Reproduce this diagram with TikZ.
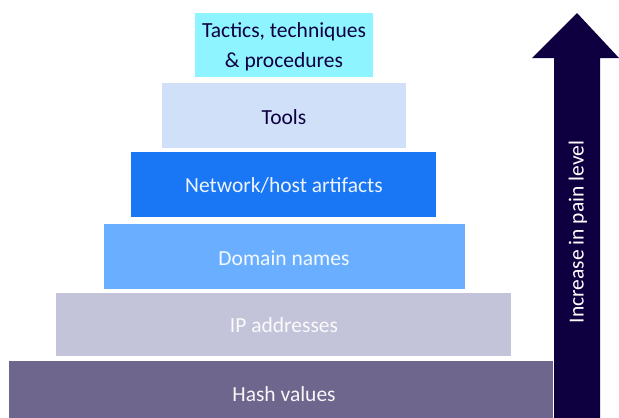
\documentclass[tikz,border=0pt]{standalone}
\usepackage{fontspec}
\setmainfont{Carlito}
\definecolor{navy}{HTML}{0E0040}
\definecolor{cttp}{HTML}{8EF4FF}
\definecolor{ctools}{HTML}{D0E0F8}
\definecolor{cnet}{HTML}{1976F5}
\definecolor{cdom}{HTML}{6AAFFF}
\definecolor{cip}{HTML}{C3C3DA}
\definecolor{chash}{HTML}{6E668C}
\begin{document}
\begin{tikzpicture}[x=1pt,y=-1pt,
  tier/.style={inner sep=0pt,outer sep=0pt,font=\fontsize{21.5}{30}\selectfont,align=center},
  ]
\useasboundingbox[fill=white] (0,0) rectangle (619,418);
\path[fill=cttp] (195,13) rectangle (373,77);
\node[tier,text=navy] (ttp) at (284,47) {Tactics, techniques\\\& procedures};
\path[fill=ctools] (162,83) rectangle (406,148);
\node[tier,text=navy] (tools) at (284,117) {Tools};
\path[fill=cnet] (131,152) rectangle (436,217);
\node[tier,text=white!92!cnet] (net) at (284,185) {Network/host artifacts};
\path[fill=cdom] (104,224) rectangle (465,289);
\node[tier,text=white!92!cdom] (dom) at (284,258) {Domain names};
\path[fill=cip] (56,293) rectangle (511,356);
\node[tier,text=white!92!cip] (ip) at (284,325) {IP addresses};
\path[fill=chash] (9,361) rectangle (553,418);
\node[tier,text=white!95!chash] (hash) at (284,394) {Hash values};
\path[fill=navy] (554,418) -- (554,58) -- (532,58) -- (577,13) -- (619,58) -- (600,58) -- (600,418) -- cycle;
\node[tier,text=white,rotate=90] (pain) at (578,232) {Increase in pain level};
\end{tikzpicture}
\end{document}
